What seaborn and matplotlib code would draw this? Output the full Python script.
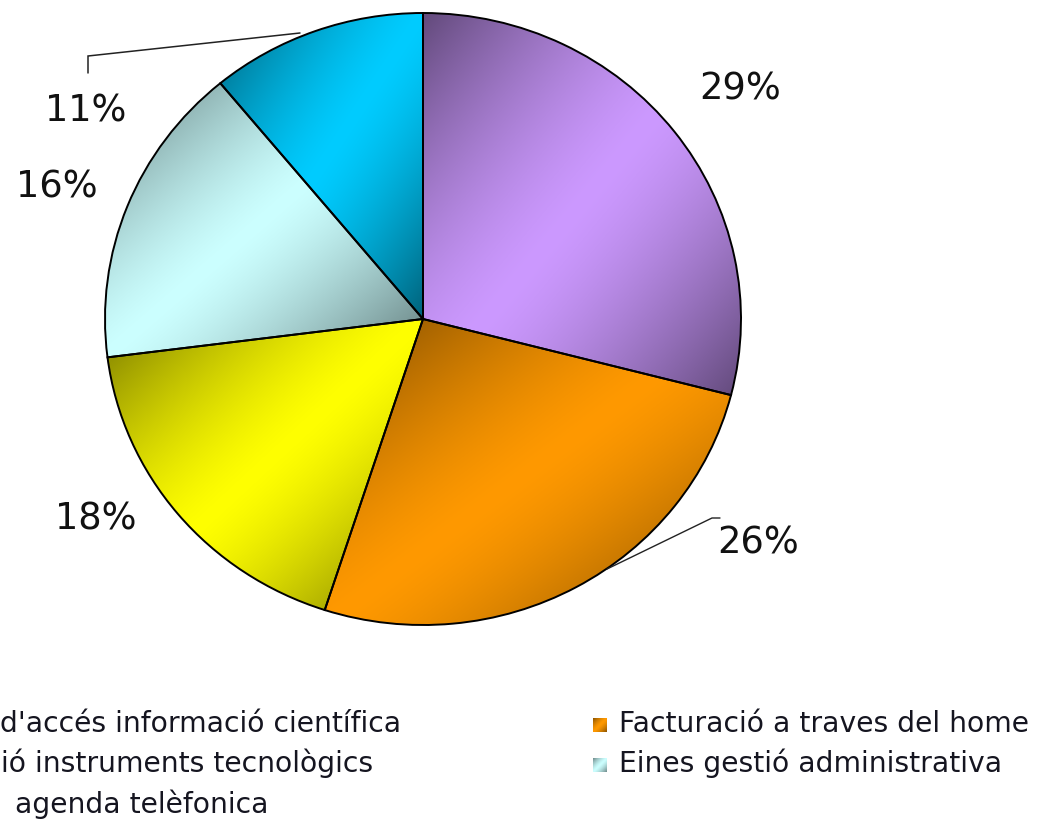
import numpy as np
import matplotlib
matplotlib.use("Agg")
import matplotlib.pyplot as plt
import seaborn as sns

# ---------------- data ----------------
# legend labels as far as they are visible in the (cropped) reference
categories = [
    "d'accés informació científica",
    "Facturació a traves del home",
    "ió instruments tecnològics",
    "Eines gestió administrativa",
    "agenda telèfonica",
]
values = [29, 26, 18, 16, 11]
pct_labels = ["29%", "26%", "18%", "16%", "11%"]
colors = ["#cc99ff", "#ff9900", "#ffff00", "#ccffff", "#00ccff"]

# ---------------- layout (pixel geometry) ----------------
W, H = 1039, 821
CX, CY, RX, RY = 423, 319, 318, 306


def X(px):
    return (px - CX) / RX


def Y(py):
    return (CY - py) / RY


sns.set_theme(style="white")
plt.rcParams["font.family"] = ["DejaVu Sans"]

fig = plt.figure(figsize=(W / 100, H / 100), dpi=100)
ax = fig.add_axes([0, 0, 1, 1])

wedges, _ = ax.pie(values, colors=colors, startangle=90, counterclock=False,
                   radius=1, center=(0, 0),
                   wedgeprops=dict(edgecolor="black", linewidth=1.4))
ax.set_aspect("auto")
ax.axis("off")


def gradient_img(base, n=200, strength=0.52, power=1.4):
    yy, xx = np.mgrid[0:1:n * 1j, 0:1:n * 1j]
    t = (xx + yy) / 2.0          # 0 top-left, 1 bottom-right
    d = np.abs(2 * t - 1) ** power
    f = 1 - strength * d
    rgb = np.array(matplotlib.colors.to_rgb(base))
    return np.clip(f[..., None] * rgb[None, None, :], 0, 1)


for w, c in zip(wedges, colors):
    ext = w.get_path().get_extents()
    img = ax.imshow(gradient_img(c), extent=(ext.x0, ext.x1, ext.y0, ext.y1),
                    origin="upper", interpolation="bilinear", zorder=1,
                    aspect="auto")
    img.set_clip_path(w)
    w.set_facecolor("none")
    w.set_zorder(3)

# ---------------- percentage labels ----------------
label_pos = [(740, 89), (758, 543), (96, 519), (57, 187), (86, 111)]
for txt, (px, py) in zip(pct_labels, label_pos):
    ax.text(X(px), Y(py), txt, ha="center", va="center",
            fontsize=26.5, color="#111111", zorder=5)

# leader lines
ax.plot([X(88), X(88), X(300)], [Y(73), Y(56), Y(33)],
        color="#222222", lw=1.1, zorder=4, solid_joinstyle="miter")
ax.plot([X(720), X(712), X(607)], [Y(518), Y(518), Y(569)],
        color="#222222", lw=1.0, zorder=4)

# ---------------- legend (Excel style, row-major, 2 columns) ----------------
leg_fs = 20.3
text_color = "#151520"
# left column (cut by the left image edge in the reference)
left_items = [(0, 0, 732), (2, 1, 772), (4, 15, 813)]
for idx, xstart, base_y in left_items:
    ax.text(X(xstart), Y(base_y), categories[idx], ha="left", va="baseline",
            fontsize=leg_fs, color=text_color, zorder=5)

right_items = [(1, 732), (3, 772)]
for idx, base_y in right_items:
    ax.text(X(619), Y(base_y), categories[idx], ha="left", va="baseline",
            fontsize=leg_fs, color=text_color, zorder=5)
    x0, x1 = X(593), X(607)
    y0, y1 = Y(base_y), Y(base_y - 14)
    ax.imshow(gradient_img(colors[idx], n=30, strength=0.45),
              extent=(x0, x1, y0, y1), origin="upper",
              interpolation="bilinear", zorder=4, aspect="auto")

ax.set_xlim(X(0), X(W))
ax.set_ylim(Y(H), Y(0))

fig.savefig("out.png", dpi=100, facecolor="white")
